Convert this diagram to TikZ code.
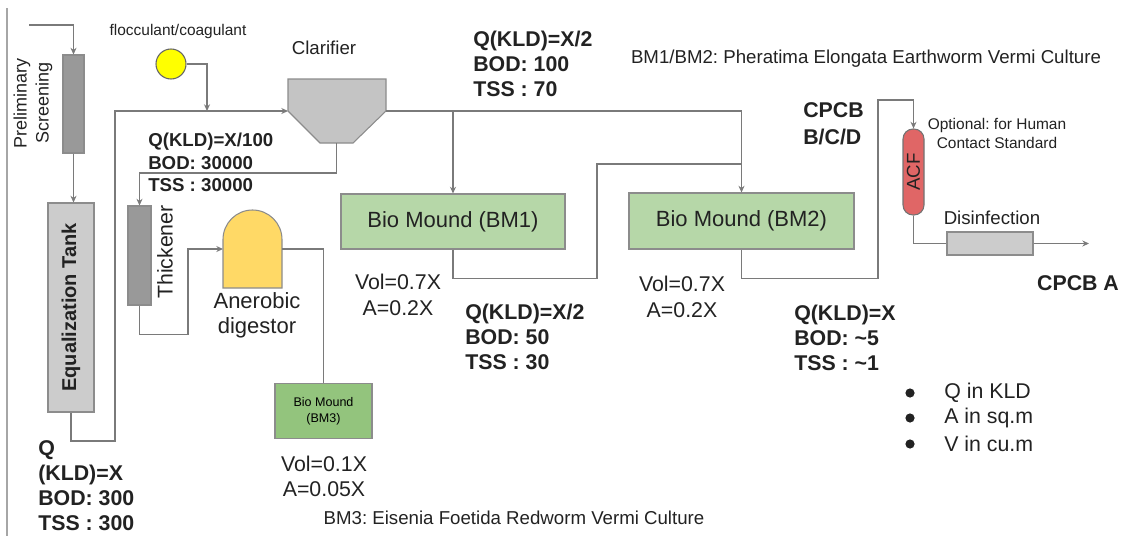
\documentclass[tikz,border=0pt]{standalone}
\usepackage{fontspec}
\setmainfont{Liberation Sans}
\usetikzlibrary{arrows.meta}
\newdimen\upx \upx=0.75pt
\newcommand\fsz[2]{\fontsize{#1}{#2}\selectfont}
\definecolor{linegray}{HTML}{7A7A7A}
\definecolor{edgegray}{HTML}{8C8C8C}
\definecolor{darkfill}{HTML}{999999}
\definecolor{lightfill}{HTML}{CCCCCC}
\definecolor{clarfill}{HTML}{C4C4C4}
\definecolor{moundgreen}{HTML}{B6D7A8}
\definecolor{mounddark}{HTML}{93C47D}
\definecolor{digestyellow}{HTML}{FFD966}
\definecolor{acfred}{HTML}{E06666}
\definecolor{flocyellow}{HTML}{FFFF00}
\definecolor{textblack}{HTML}{222222}
\frenchspacing
\begin{document}
\begin{tikzpicture}[x=0.75pt,y=-0.75pt,
  flow/.style={draw=linegray, line width=0.9pt},
  arr/.style={flow, -{Stealth[length=5pt,width=4.5pt]}},
  unit/.style={draw=edgegray, line width=0.8pt, inner sep=0pt},
  lbl/.style={inner sep=0pt, text=textblack},
  tag/.style={lbl, font=\bfseries\fsz{16}{18.75}, align=left, anchor=west},
]
\useasboundingbox (0,0) rectangle (1125,536);

% page edge rule
\draw[draw=black!35, line width=0.9pt] (7,8) -- (7,536);

% process units
\node[unit, fill=darkfill, minimum width=21\upx, minimum height=98\upx] (screen) at (73.5,104) {};
\node[unit, fill=lightfill, minimum width=46\upx, minimum height=209\upx] (tank) at (71,307.5) {};
\node[unit, draw=black!60, fill=flocyellow, circle, minimum size=30\upx] (floc) at (171,64) {};
\draw[unit, fill=clarfill] (288,79) -- (386,79) -- (386,111) -- (353,143) -- (320,143) -- (288,111) -- cycle;
\coordinate (clin) at (288,111);
\coordinate (clout) at (386,111);
\coordinate (clbot) at (336.5,143);
\node[unit, fill=darkfill, minimum width=23\upx, minimum height=99\upx] (thick) at (139.5,255.5) {};
\draw[unit, fill=digestyellow] (223,288) -- (223,239.5) arc[start angle=180, end angle=0, radius=29.5\upx] -- (282,288) -- cycle;
\coordinate (dgin) at (223,249);
\coordinate (dgout) at (282,249);
\node[unit, fill=moundgreen, minimum width=224\upx, minimum height=55\upx] (bm1) at (453,221.5) {};
\node[unit, fill=moundgreen, minimum width=225\upx, minimum height=56\upx] (bm2) at (741.5,221) {};
\node[unit, fill=mounddark, minimum width=97\upx, minimum height=55\upx, align=center, font=\fsz{9.4}{12}] (bm3) at (323.5,411) {Bio Mound\\(BM3)};
\node[unit, draw=black!55, fill=acfred, rounded corners=7.5pt, minimum width=21\upx, minimum height=86\upx] (acf) at (913.5,172) {};
\node[unit, fill=lightfill, minimum width=86\upx, minimum height=23\upx] (dis) at (990,243.5) {};

% junction points of the pipework
\coordinate (inlet) at (29,25);
\coordinate (loopA) at (115,441);
\coordinate (loopB) at (115,111);
\coordinate (fljoin) at (207,111);
\coordinate (dgjoin) at (188,249);
\coordinate (bmjoin) at (597,164);
\coordinate (acfjoin) at (878,100);
\coordinate (outlet) at (1089,243.5);

% pipework
\draw[arr] (inlet) -| (screen.north);
\draw[arr] (screen.south) -- (screen.south |- tank.north);
\draw[arr] (tank.south) |- (loopA) -- (loopB) -- (clin);
\draw[arr] (floc.east) -| (fljoin);
\draw[arr] (clout) -| (bm2.north);
\draw[arr] (clout -| bm1.north) -- (bm1.north);
\draw[arr] (clbot) -- ++(0,30) -| (thick.north);
\draw[arr] (thick.south) -- ++(0,29) -| (dgjoin) -- (dgin);
\draw[flow] (dgout) -| (bm3.north);
\draw[flow] (bm1.south) -- ++(0,29) -| (bmjoin) -- (bmjoin -| bm2.north);
\draw[arr] (bm2.south) -- ++(0,29) -| (acfjoin) -| (acf.north);
\draw[flow] (acf.south) |- (dis.west);
\draw[arr] (dis.east) -- (outlet);

% unit labels
\node[lbl, rotate=90, align=center, font=\fsz{13.5}{16.5}] (screenlbl) at (33,103) {Preliminary\\Screening};
\node[lbl, rotate=90, font=\bfseries\fsz{15}{18}] (tanklbl) at (tank.center) {Equalization Tank};
\node[lbl, font=\fsz{11.6}{14}] (floclbl) at (178,31) {flocculant/coagulant};
\node[lbl, font=\fsz{14}{17}] (clarlbl) at (324,48) {Clarifier};
\node[lbl, rotate=90, font=\fsz{16}{19}] (thicklbl) at (165,252) {Thickener};
\node[lbl, align=center, font=\fsz{16.5}{18.75}] (diglbl) at (257,315) {Anerobic\\digestor};
\node[lbl, font=\fsz{16.5}{20}] at (bm1.center) {Bio Mound (BM1)};
\node[lbl, font=\fsz{16.5}{20}] at (bm2.center) {Bio Mound (BM2)};
\node[lbl, rotate=90, font=\fsz{14}{17}] (acflbl) at (acf.center) {ACF};
\node[lbl, font=\fsz{14}{17}] (dislbl) at (992,218) {Disinfection};
\node[lbl, align=center, font=\fsz{11.6}{14.25}] (optlbl) at (997,133.5) {Optional: for Human\\Contact Standard};

% sizing notes
\node[lbl, align=center, font=\fsz{16}{19.5}] (size1) at (398,295) {Vol=0.7X\\A=0.2X};
\node[lbl, align=center, font=\fsz{16}{19.5}] (size2) at (682,296.5) {Vol=0.7X\\A=0.2X};
\node[lbl, align=center, font=\fsz{16}{18.75}] (size3) at (324,476.5) {Vol=0.1X\\A=0.05X};

% stream quality tags
\node[tag] (q0) at (38,485.5) {Q\\(KLD)=X\\BOD: 300\\TSS : 300};
\node[tag, font=\bfseries\fsz{14}{16.9}] (q1) at (148,162.5) {Q(KLD)=X/100\\BOD: 30000\\TSS : 30000};
\node[tag] (q2) at (473,64) {Q(KLD)=X/2\\BOD: 100\\TSS : 70};
\node[tag] (q3) at (465,337) {Q(KLD)=X/2\\BOD: 50\\TSS : 30};
\node[tag] (q4) at (794,337.5) {Q(KLD)=X\\BOD: \textasciitilde5\\TSS : \textasciitilde1};
\node[tag, font=\bfseries\fsz{16}{20}] (cpcb1) at (803,123.5) {CPCB\\B/C/D};
\node[lbl, font=\bfseries\fsz{16}{19}] (cpcb2) at (1078,283) {CPCB A};

% culture notes
\node[lbl, font=\fsz{14}{17}] (cult12) at (866,59) {BM1/BM2: Pheratima Elongata Earthworm Vermi Culture};
\node[lbl, font=\fsz{14}{17}] (cult3) at (514,518) {BM3: Eisenia Foetida Redworm Vermi Culture};

% units legend
\foreach \yy/\txt [count=\i] in {393/Q in KLD, 418/A in sq.m, 444/V in cu.m}{
  \fill[textblack] (910,\yy) circle[radius=4.6\upx];
  \node[lbl, anchor=west, font=\fsz{16}{19}] (unit\i) at (944,\yy) {\txt};
}
\end{tikzpicture}
\end{document}
